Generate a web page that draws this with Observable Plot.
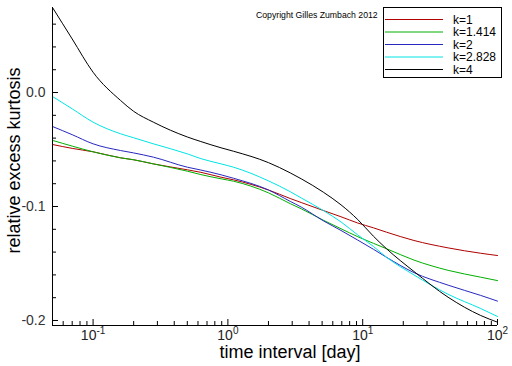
<!DOCTYPE html>
<html>
<head>
<meta charset="utf-8">
<script src="https://cdn.jsdelivr.net/npm/d3@7"></script>
<script src="https://cdn.jsdelivr.net/npm/@observablehq/plot@0.6"></script>
<style>
  html, body { margin: 0; padding: 0; background: #fff; }
  #chart { width: 512px; height: 366px; }
</style>
</head>
<body>
<div id="chart"></div>
<script>
// ---- data ----
const xVals = [0.05, 0.07, 0.1, 0.16, 0.2, 0.28, 0.5, 0.63, 0.89, 1.1, 2, 2.9, 3.5, 5.1, 6.9, 9.2, 12, 15, 24, 43, 75, 100];
const seriesLabels = ["k=1", "k=1.414", "k=2", "k=2.828", "k=4"];
const seriesColors = ["#b00000", "#00b000", "#2828c0", "#00e4e4", "#000000"];
const k1    = [-0.0456, -0.049, -0.052, -0.0573, -0.059, -0.0626, -0.0678, -0.070, -0.0743, -0.0766, -0.0855, -0.093, -0.0965, -0.1035, -0.109, -0.1145, -0.1187, -0.1225, -0.1298, -0.1363, -0.141, -0.143];
const k1414 = [-0.042, -0.047, -0.052, -0.0573, -0.059, -0.0626, -0.069, -0.072, -0.0757, -0.0778, -0.088, -0.0975, -0.102, -0.112, -0.1195, -0.1265, -0.1323, -0.137, -0.147, -0.156, -0.162, -0.165];
const k2    = [-0.0298, -0.037, -0.045, -0.0509, -0.053, -0.0567, -0.0655, -0.068, -0.0722, -0.0752, -0.0855, -0.0955, -0.1005, -0.1125, -0.121, -0.1295, -0.1375, -0.1445, -0.158, -0.169, -0.178, -0.183];
const k2828 = [-0.0035, -0.0143, -0.026, -0.0362, -0.0397, -0.045, -0.0538, -0.058, -0.0626, -0.0655, -0.0775, -0.087, -0.0925, -0.1035, -0.1135, -0.125, -0.135, -0.1445, -0.160, -0.177, -0.1895, -0.1965];
const k4    = [0.0746, 0.047, 0.0178, -0.007, -0.0165, -0.026, -0.039, -0.043, -0.0485, -0.0515, -0.0615, -0.0705, -0.0757, -0.0874, -0.0985, -0.1115, -0.126, -0.137, -0.157, -0.1796, -0.1956, -0.2015];

const xDomain = [0.05, 100];
const yDomain = [-0.2044, 0.0746];
const xMajorTicks = [0.1, 1, 10, 100];
const xTickExponents = ["-1", "0", "1", "2"];
const xMinorTicks = [0.06, 0.07, 0.08, 0.09, 0.2, 0.3, 0.4, 0.5, 0.6, 0.7, 0.8, 0.9, 2, 3, 4, 5, 6, 7, 8, 9, 20, 30, 40, 50, 60, 70, 80, 90];
const yMajorTicks = [0, -0.1, -0.2];
const yTickLabels = ["0.0", "-0.1", "-0.2"];
const yMinorTicks = [0.06, 0.04, 0.02, -0.02, -0.04, -0.06, -0.08, -0.12, -0.14, -0.16, -0.18];
const xTitle = "time interval [day]";
const yTitle = "relative excess kurtosis";
const copyright = "Copyright Gilles Zumbach 2012";

// ---- table ----
const allSeries = [k1, k1414, k2, k2828, k4];
const rows = [];
allSeries.forEach((vals, i) => vals.forEach((v, j) => rows.push({x: xVals[j], y: v, k: seriesLabels[i]})));

const font = "'Liberation Sans', Arial, Helvetica, sans-serif";

const chart = Plot.plot({
  width: 512,
  height: 366,
  marginLeft: 52,
  marginRight: 15,
  marginTop: 7,
  marginBottom: 41,
  style: {fontFamily: font, fontSize: "14px", background: "#fff", color: "#000"},
  x: {type: "log", domain: xDomain, label: null},
  y: {domain: yDomain, label: null},
  color: {domain: seriesLabels, range: seriesColors},
  marks: [
    Plot.line(rows, {x: "x", y: "y", stroke: "k", strokeWidth: 1, curve: "monotone-x"}),
    Plot.ruleX([xDomain[0]], {stroke: "#000", strokeWidth: 1}),
    Plot.ruleY([yDomain[0]], {stroke: "#000", strokeWidth: 1}),
    Plot.axisY(yMajorTicks, {tickSize: -6, tickFormat: () => "", label: null}),
    Plot.axisY(yMinorTicks, {tickSize: -4, tickFormat: () => "", label: null}),
    Plot.axisY(yMajorTicks, {tickSize: 0, tickPadding: 7, fill: "#333", fontSize: 14,
      tickFormat: d => yTickLabels[yMajorTicks.indexOf(d)], label: null}),
    Plot.axisX(xMajorTicks, {tickSize: -6, tickFormat: () => "", label: null}),
    Plot.axisX(xMinorTicks, {tickSize: -4, tickFormat: () => "", label: null}),
    Plot.axisX(xMajorTicks, {tickSize: 0, tickPadding: 5, fill: "#222", fontSize: 14,
      tickFormat: d => "10^" + xTickExponents[xMajorTicks.indexOf(d)], label: null}),
    Plot.text([xTitle], {text: d => d, frameAnchor: "bottom", textAnchor: "middle", lineAnchor: "middle",
      dx: 15, dy: 27, fontSize: 18, fill: "#000"}),
    Plot.text([yTitle], {text: d => d, frameAnchor: "left", textAnchor: "middle", lineAnchor: "middle",
      rotate: -90, dx: -38, dy: -6, fontSize: 18, fill: "#000"})
  ]
});

document.getElementById("chart").appendChild(chart);

// superscript exponents on x tick labels
const svg = d3.select(chart);
svg.selectAll('g[aria-label="x-axis tick label"] text').each(function() {
  const t = this.textContent;
  if (!t.startsWith("10^")) return;
  const exp = t.slice(3);
  const sel = d3.select(this);
  sel.text("10");
  sel.append("tspan").attr("dy", "-6").attr("font-size", 10).text(exp);
});

// copyright note
svg.append("text")
  .attr("x", 256).attr("y", 18).attr("text-anchor", "start")
  .attr("font-family", font).attr("font-size", 8.7).attr("fill", "#000")
  .text(copyright);

// legend box
const lg = svg.append("g").attr("font-family", font).attr("text-anchor", "start");
lg.append("rect").attr("x", 383.5).attr("y", 7.5).attr("width", 118).attr("height", 70)
  .attr("fill", "#fff").attr("stroke", "#000").attr("stroke-width", 1);
const legendY = [19, 31.5, 44, 56.5, 69];
seriesLabels.forEach((lab, i) => {
  lg.append("line").attr("x1", 385).attr("x2", 443).attr("y1", legendY[i] + 0.5).attr("y2", legendY[i] + 0.5)
    .attr("stroke", seriesColors[i]).attr("stroke-width", 1);
  lg.append("text").attr("x", 453).attr("y", legendY[i] + 4.5).attr("font-size", 12).attr("fill", "#000")
    .attr("text-anchor", "start").text(lab);
});
</script>
</body>
</html>
